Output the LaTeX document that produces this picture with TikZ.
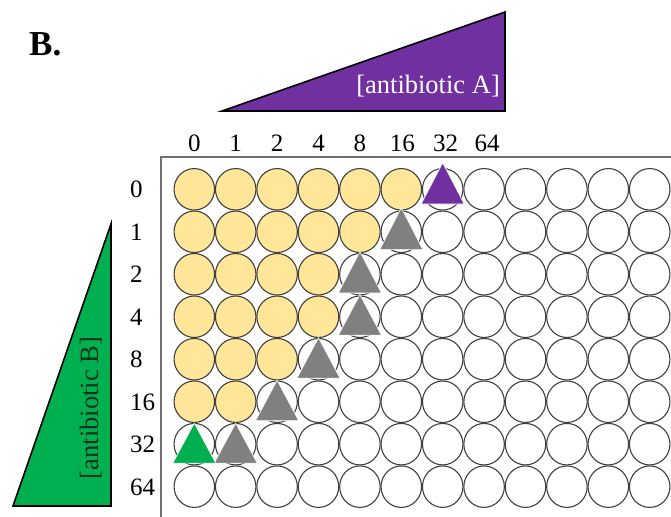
\documentclass[tikz,border=0pt]{standalone}
\usepackage{fontspec}
\setmainfont{Liberation Serif}
\usetikzlibrary{shapes.geometric}
\definecolor{wellyellow}{RGB}{255,230,153}
\definecolor{wellline}{RGB}{64,64,64}
\definecolor{platecol}{RGB}{112,112,112}
\definecolor{purpleA}{RGB}{112,48,160}
\definecolor{greenB}{RGB}{0,176,80}
\definecolor{greyT}{RGB}{128,128,128}
\definecolor{textB}{RGB}{18,50,30}
\begin{document}
\begin{tikzpicture}[x=1pt,y=-1pt,
  well/.style={ellipse,draw=wellline,line width=1.1pt,minimum width=40.5pt,minimum height=41.5pt,inner sep=0pt},
  lbl/.style={font=\fontsize{25}{30}\selectfont,inner sep=0pt},
  tri/.style={draw=white,line width=0.6pt},
  bigtri/.style={draw=black,line width=1.6pt,line join=miter}]
\useasboundingbox (0,0) rectangle (671,516);
\clip (0,0) rectangle (671,516);
% title
\node[font=\fontsize{35}{40}\selectfont\bfseries,anchor=base west,inner sep=0pt] (title) at (29,56) {B.};
% antibiotic A wedge
\draw[bigtri,fill=purpleA] (222,111) -- (505,12) -- (505,111) -- cycle;
\node[font=\fontsize{26.5}{30}\selectfont,text=white,anchor=base east,inner sep=0pt] (labA) at (500,94) {[antibiotic A]};
% antibiotic B wedge
\draw[bigtri,fill=greenB] (111,224) -- (13,506) -- (111,506) -- cycle;
\node[font=\fontsize{26.5}{30}\selectfont,text=textB,anchor=base,rotate=90,inner sep=0pt] (labB) at (98,408) {[antibiotic B]};
% plate border
\draw[platecol,line width=1.5pt] (161,540) -- (161,157) -- (700,157);
% wells
\foreach \r/\n in {0/6,1/5,2/4,3/4,4/3,5/2,6/0,7/0}{
  \foreach \c in {0,...,11}{
    \ifnum\c<\n \def\wfill{wellyellow}\else\def\wfill{white}\fi
    \node[well,fill=\wfill] (w-\r-\c) at ({194.3+\c*41.4},{189.3+\r*42.48}) {};
  }
}
% column labels
\foreach \t [count=\i from 0] in {0,1,2,4,8,16,32,64}{
  \node[lbl,anchor=base] (cl-\i) at ({194.3+\i*41.4+(\i==5 ? 1 : 0)+(\i==6 ? 3 : 0)+(\i==7 ? 3 : 0)},151) {\t};
}
% row labels
\foreach \t [count=\i from 0] in {0,1,2,4,8,16,32,64}{
  \node[lbl,anchor=base west] (rl-\i) at (130,{189.3+\i*42.48+8.5}) {\t};
}
% triangles
\foreach \w/\col/\up/\dn in {0-6/purpleA/26.5/14.7, 1-5/greyT/24/17.8, 2-4/greyT/22.5/18.7, 3-4/greyT/22/18.5, 4-3/greyT/21.5/19, 5-2/greyT/21.5/19, 6-1/greyT/21/19, 6-0/greenB/21/19}{
  \filldraw[tri,fill=\col] ([yshift=\up pt]w-\w.center) -- ([xshift=-21.5pt,yshift=-\dn pt]w-\w.center) -- ([xshift=21.5pt,yshift=-\dn pt]w-\w.center) -- cycle;
}
\end{tikzpicture}
\end{document}
